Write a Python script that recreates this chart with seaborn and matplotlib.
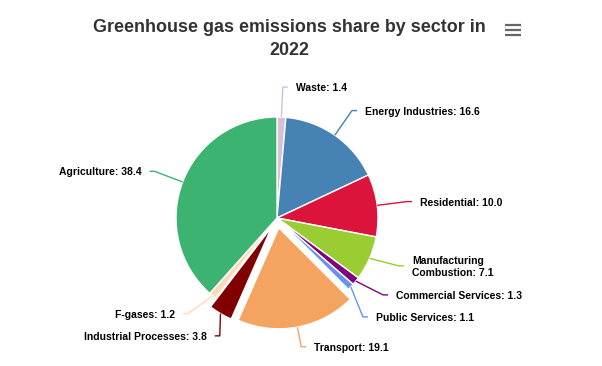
import numpy as np
import matplotlib
matplotlib.use("Agg")
import matplotlib.pyplot as plt
import seaborn as sns

# ---- data ----
categories = ["Waste", "Energy Industries", "Residential", "Manufacturing Combustion",
              "Commercial Services", "Public Services", "Transport",
              "Industrial Processes", "F-gases", "Agriculture"]
shares = [1.4, 16.6, 10.0, 7.1, 1.3, 1.1, 19.1, 3.8, 1.2, 38.4]
colors = ["#d8bfd8", "#4682b4", "#dc143c", "#9acd32", "#800080",
          "#6495ed", "#f4a460", "#800000", "#ffdab9", "#3cb371"]
sliced = [False, False, False, False, False, False, True, True, False, False]
display_names = ["Waste", "Energy Industries", "Residential", "Manufacturing\nCombustion",
                 "Commercial Services", "Public Services", "Transport",
                 "Industrial Processes", "F-gases", "Agriculture"]
title_lines = ["Greenhouse gas emissions share by sector in", "2022"]

# ---- style ----
sns.set_theme(style="white")
plt.rcParams["font.family"] = ["Liberation Sans", "DejaVu Sans"]

W, H = 602, 366
fig = plt.figure(figsize=(W / 100, H / 100), dpi=100)
ax = fig.add_axes([0, 0, 1, 1])

CX, CY_PX = 277, 218
R, DIST, SLICE = 101, 30, 10
CY = H - CY_PX

ax.pie(shares, colors=colors, startangle=90, counterclock=False, radius=R,
       center=(CX, CY), explode=[SLICE if s else 0 for s in sliced],
       wedgeprops=dict(edgecolor="white", linewidth=1.0), frame=True)
ax.set_xlim(0, W)
ax.set_ylim(0, H)
ax.set_aspect("equal")
ax.axis("off")

# ---- label layout (Highcharts-like) ----
total = float(sum(shares))
cum = np.concatenate([[0], np.cumsum(shares)[:-1]])
mid = np.pi / 2 - 2 * np.pi * (cum + np.array(shares) / 2) / total

labels = [f"{n}: {v:.1f}" for n, v in zip(display_names, shares)]
heights = [22 + 14 * (lab.count("\n")) for lab in labels]
targets = [CY_PX - (R + DIST) * np.sin(t) for t in mid]
sides = [1 if np.cos(t) >= 0 else -1 for t in mid]


def distribute(idx):
    idx = sorted(idx, key=lambda i: targets[i])
    clusters = [[i] for i in idx]

    def place(cl):
        offs, acc = [], 0
        for i in cl:
            offs.append(acc + heights[i] / 2)
            acc += heights[i]
        top = np.mean([targets[i] - o for i, o in zip(cl, offs)])
        return top, acc, [top + o for o in offs]

    changed = True
    while changed:
        changed = False
        for k in range(1, len(clusters)):
            t0, h0, _ = place(clusters[k - 1])
            t1, _, _ = place(clusters[k])
            if t0 + h0 > t1:
                clusters[k - 1] = clusters[k - 1] + clusters[k]
                del clusters[k]
                changed = True
                break
    res = {}
    for cl in clusters:
        _, _, ys = place(cl)
        for i, y in zip(cl, ys):
            res[i] = y
    return res


ypos = {}
ypos.update(distribute([i for i in range(len(shares)) if sides[i] > 0]))
ypos.update(distribute([i for i in range(len(shares)) if sides[i] < 0]))

for i, t in enumerate(mid):
    s = sides[i]
    ly = ypos[i]
    dy = ly - CY_PX
    dx = np.sqrt(max((R + DIST) ** 2 - dy ** 2, 0))
    lx = CX + s * dx
    off = SLICE if sliced[i] else 0
    ex = CX + (R + off) * np.cos(t)
    ey = CY_PX - (R + off) * np.sin(t)
    ax.plot([ex, lx, lx + 5 * s], [H - ey, H - ly, H - ly], color=colors[i],
            lw=1.0, solid_capstyle="butt")
    ax.text(lx + 13 * s, H - ly - 1, labels[i], ha="left" if s > 0 else "right",
            va="center", fontsize=7.5, fontweight="bold", color="#000000",
            linespacing=1.25, multialignment="left")

# ---- title ----
fig.text(289 / W, 1 - 32 / H, title_lines[0], ha="center", va="baseline",
         fontsize=12.85, fontweight="bold", color="#333333")
fig.text(289 / W, 1 - 55 / H, title_lines[1], ha="center", va="baseline",
         fontsize=12.85, fontweight="bold", color="#333333")

# ---- menu icon ----
for yy in (24.5, 29.5, 34.5):
    ax.plot([505, 521], [H - yy, H - yy], color="#666666", lw=1.6,
            solid_capstyle="butt")

fig.savefig("out.png", dpi=100, facecolor="white")
